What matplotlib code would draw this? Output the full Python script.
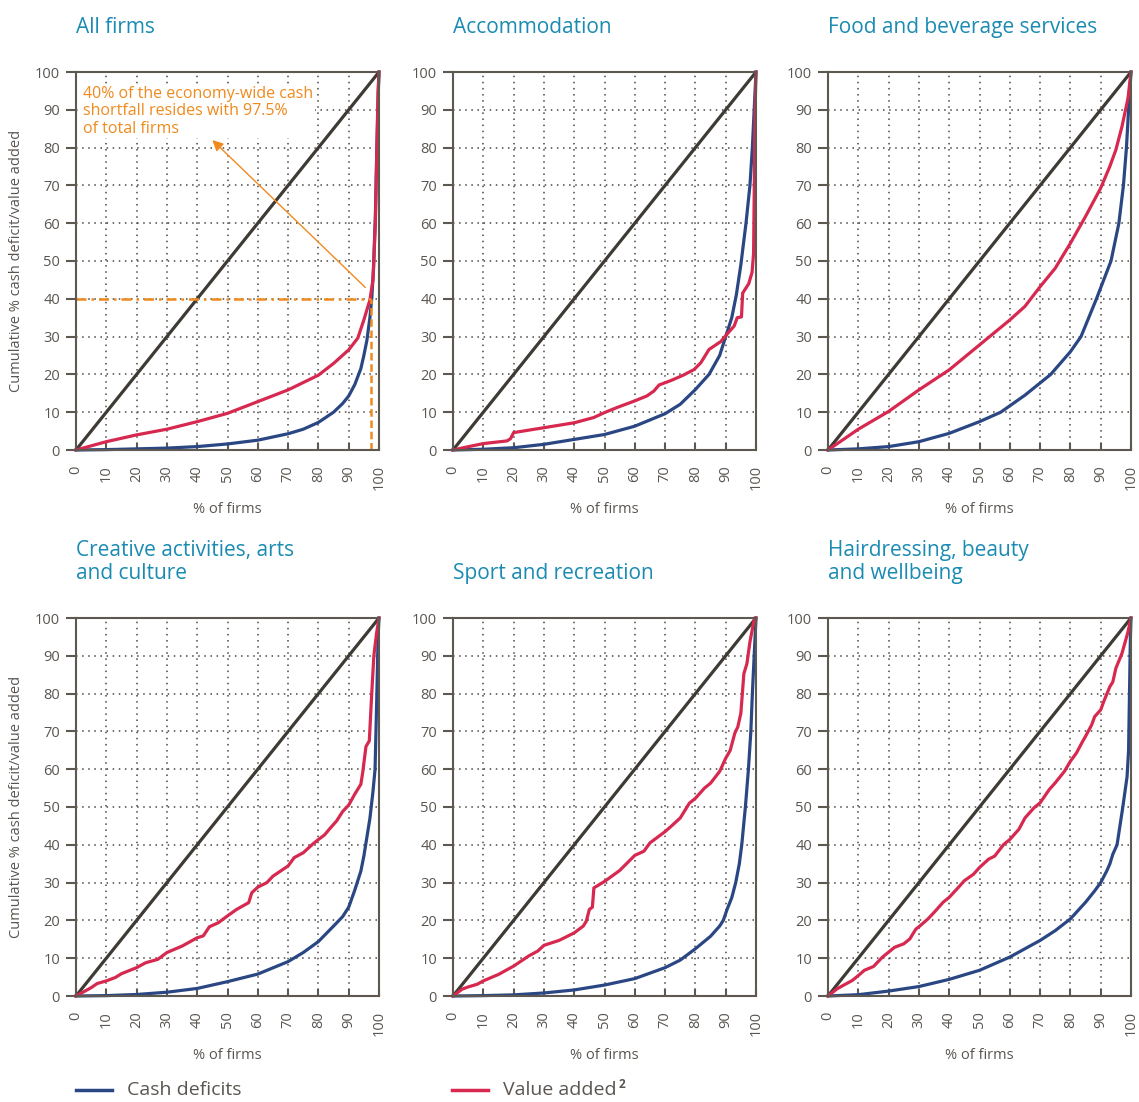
import matplotlib
matplotlib.use("Agg")
import matplotlib.pyplot as plt
from matplotlib.lines import Line2D

plt.rcParams['font.family'] = ['Open Sans', 'DejaVu Sans']

# ---- data: cumulative % of cash deficit / value added vs % of firms ----
titles = ["All firms", "Accommodation", "Food and beverage services",
          "Creative activities, arts\nand culture", "Sport and recreation",
          "Hairdressing, beauty\nand wellbeing"]

equality = [0, 100]

all_cash_x = [0, 10, 20, 30, 40, 50, 60, 70, 75, 80, 85, 88, 90, 92, 94, 95, 96, 97, 97.6, 98.2, 98.8, 99.3, 99.7, 100]
all_cash_y = [0, 0.1, 0.3, 0.5, 0.9, 1.6, 2.6, 4.3, 5.5, 7.3, 10, 12.3, 14.3, 17.3, 21.5, 25, 29, 35, 40, 48, 62, 80, 93, 100]
all_va_x = [0, 10, 20, 30, 40, 50, 60, 70, 80, 85, 90, 93, 95, 97, 98, 98.8, 99.3, 99.7, 100]
all_va_y = [0, 2.2, 4.0, 5.5, 7.5, 9.7, 12.8, 15.9, 19.8, 22.9, 26.5, 29.6, 34.4, 39.7, 45, 60, 80, 95, 100]

acc_cash_x = [0, 10, 20, 30, 40, 50, 60, 70, 75, 80, 84.5, 88, 90, 92, 93.5, 95, 96.7, 98, 98.8, 99.4, 100]
acc_cash_y = [0, 0.2, 0.6, 1.5, 2.8, 4.1, 6.3, 9.6, 12.1, 16, 20, 25, 30, 35, 41, 49, 60, 70, 80, 90, 100]
acc_va_x = [0, 3.4, 10, 17.8, 19, 20, 30, 40, 46.5, 50, 54, 60, 64, 66.3, 68, 72, 76, 79.6, 81.8, 84.5,
            88.4, 90.6, 92.8, 93.8, 95.2, 95.6, 97.6, 98.7, 99.2, 99.7, 100]
acc_va_y = [0, 0.6, 1.7, 2.4, 3.0, 4.6, 5.9, 7.2, 8.6, 9.9, 11.2, 13, 14.3, 15.6, 17.2, 18.4, 19.8, 21.3, 23.1, 26.6,
            28.7, 30.8, 32.8, 35, 35.2, 41.5, 44, 47, 52, 90, 100]

food_cash_x = [0, 10, 20, 30, 40, 50, 57, 65, 73.5, 80, 83.5, 88.6, 91, 93.4, 96, 97.5, 98.5, 99.2, 100]
food_cash_y = [0, 0.3, 0.9, 2.2, 4.4, 7.5, 10, 14.5, 20, 26, 30, 40, 45, 50, 60, 70, 80, 90, 100]
food_va_x = [0, 10, 20, 30, 40, 50, 60, 65, 70, 75, 80, 85, 90, 93, 95, 97, 99, 100]
food_va_y = [0, 5.5, 10.2, 15.9, 21.2, 27.8, 34.4, 38, 43.2, 48.1, 54.7, 61.8, 69.3, 75, 79.4, 85.5, 93, 100]

arts_cash_x = [0, 10, 20, 30, 40, 50, 60, 70, 75, 80, 85, 88, 90, 92, 94, 95, 96, 97, 98, 98.7, 99.3, 99.7, 100]
arts_cash_y = [0, 0.1, 0.4, 1.0, 2.0, 3.8, 5.8, 9.1, 11.5, 14.4, 18.5, 21, 23.5, 28, 33, 37, 42, 47, 54, 60, 80, 95, 100]
arts_va_x = [0, 5, 7, 10, 13, 15, 20, 23, 27, 30, 35, 40, 42, 44, 47, 50, 53, 57, 58, 60, 63, 65, 70, 72, 75,
             78, 80, 82, 84, 86, 88, 90, 92, 94, 94.6, 95.7, 96.8, 97.6, 98.3, 99.2, 100]
arts_va_y = [0, 2.2, 3.3, 4.0, 4.9, 5.9, 7.5, 8.8, 9.7, 11.5, 13.2, 15.4, 15.9, 18.3, 19.4, 21.2, 22.9, 24.7, 27.3,
             28.8, 30, 31.7, 34.4, 36.6, 37.9, 40.1, 41.4, 42.6, 44.5, 46.3, 48.8, 50.5, 53.4, 56, 59, 66, 67.5,
             80, 90, 96, 100]

sport_cash_x = [0, 10, 20, 30, 40, 50, 60, 70, 75, 80, 85, 88, 89.2, 90.5, 92, 93.3, 94.5, 95.3, 96.5, 97.5,
                98.3, 98.8, 99.4, 100]
sport_cash_y = [0, 0.1, 0.3, 0.8, 1.6, 2.9, 4.6, 7.5, 9.5, 12.5, 15.8, 18.5, 20, 23, 26, 30, 35, 40, 50, 60,
                70, 80, 90, 100]
sport_va_x = [0, 3, 5, 8, 10, 15, 20, 25, 28, 30, 35, 40, 43, 44, 45, 46, 46.5, 50, 55, 58, 60, 63, 65, 70, 72,
              75, 78, 80, 83, 85, 88, 90, 91.5, 93, 94, 95, 96, 97, 98, 99.5, 100]
sport_va_y = [0, 1.8, 2.4, 3.1, 4.0, 5.7, 7.9, 10.6, 11.9, 13.4, 14.7, 16.7, 18.5, 19.8, 22.9, 23.5, 28.6, 30.3,
              33.2, 35.6, 37.2, 38.3, 40.5, 43.5, 44.9, 47.1, 51, 52.3, 55, 56.3, 59.4, 62.9, 65, 69.5, 71.2,
              74.8, 85.3, 87.9, 93.7, 100, 100]

hair_cash_x = [0, 10, 20, 30, 40, 50, 60, 70, 75, 80, 85, 88, 90, 92, 93, 94, 95.4, 97.3, 98.7, 99.2, 99.5, 99.8, 100]
hair_cash_y = [0, 0.35, 1.3, 2.5, 4.4, 6.8, 10.3, 14.7, 17.3, 20.4, 24.8, 27.8, 30, 33.1, 34.9, 37.5, 40, 50, 58,
               65, 80, 95, 100]
hair_va_x = [0, 3, 5, 8, 10, 12, 15, 18, 20, 22, 25, 27, 29, 30, 33, 35, 38, 40, 43, 45, 48, 50, 53, 55, 58, 60,
             63, 65, 68, 70, 73, 75, 78, 80, 82, 84, 85, 87, 88, 90, 91, 93, 94, 95, 97, 99, 100]
hair_va_y = [0, 1.9, 2.8, 4.1, 5.4, 6.8, 7.8, 10.3, 11.6, 12.9, 13.8, 15.1, 17.7, 18.3, 20.4, 22.1, 24.8, 26.1,
             28.7, 30.5, 32.2, 34.0, 36.2, 37, 40.1, 41.4, 44.1, 47.1, 49.8, 51.1, 54.6, 56.4, 59.4, 62.1, 64.3,
             67.3, 68.7, 71.7, 73.9, 75.7, 77.9, 81.8, 83.1, 86.7, 90.6, 96.3, 100]

series = [
    (all_cash_x, all_cash_y, all_va_x, all_va_y),
    (acc_cash_x, acc_cash_y, acc_va_x, acc_va_y),
    (food_cash_x, food_cash_y, food_va_x, food_va_y),
    (arts_cash_x, arts_cash_y, arts_va_x, arts_va_y),
    (sport_cash_x, sport_cash_y, sport_va_x, sport_va_y),
    (hair_cash_x, hair_cash_y, hair_va_x, hair_va_y),
]

ticks = list(range(0, 101, 10))

# ---- styling ----
BLUE = "#2a4784"
RED = "#d7284f"
DIAG = "#3e3a34"
AXC = "#5d5850"
TXT = "#5a5550"
TEAL = "#1a8bb2"
ORANGE = "#f08a1e"

W, H = 1139, 1102
fig = plt.figure(figsize=(W / 100, H / 100), dpi=100)

col_left = [76, 453, 828]
row_top = [72, 618]
ax_w, ax_h = 303, 378

axes = []
for i, (title, (cx, cy, vx, vy)) in enumerate(zip(titles, series)):
    r, c = divmod(i, 3)
    left = col_left[c]
    top = row_top[r]
    ax = fig.add_axes([left / W, 1 - (top + ax_h) / H, ax_w / W, ax_h / H])
    axes.append(ax)

    ax.plot(equality, equality, color=DIAG, lw=2.3, solid_capstyle='butt', zorder=3)
    ax.plot(cx, cy, color=BLUE, lw=2.3, zorder=4, clip_on=False)
    ax.plot(vx, vy, color=RED, lw=2.3, zorder=5, clip_on=False)

    ax.set_xlim(0, 100)
    ax.set_ylim(0, 100)
    ax.set_xticks(ticks)
    ax.set_yticks(ticks)
    ax.set_xticklabels([str(t) for t in ticks], rotation=90)
    ax.grid(True, linestyle=(0, (1, 3)), color="#4a4640", lw=1.1)
    ax.set_axisbelow(True)
    for s in ax.spines.values():
        s.set_color(AXC)
        s.set_linewidth(1.5)
        s.set_zorder(6)
    ax.tick_params(axis='y', direction='out', length=7.5, width=1.5, color=AXC,
                   labelsize=10.5, labelcolor=TXT, pad=4)
    ax.tick_params(axis='x', direction='in', length=5, width=1.5, color=AXC,
                   labelsize=10.5, labelcolor=TXT, pad=11)
    ax.set_xlabel("% of firms", fontsize=10.5, color=TXT, labelpad=8)
    if c == 0:
        ax.set_ylabel("Cumulative % cash deficit/value added", fontsize=10.5,
                      color=TXT, labelpad=8)

    fig.text(left / W, 1 - (top - 34) / H, title, ha='left', va='bottom',
             fontsize=15, color=TEAL, linespacing=1.15)

# ---- annotation on the economy-wide panel ----
ax0 = axes[0]
threshold_share = 97.5
threshold_deficit = 40
ax0.plot([0, threshold_share], [threshold_deficit, threshold_deficit], color=ORANGE,
         lw=1.8, linestyle=(0, (4, 2, 1, 2)), zorder=6, clip_on=False)
ax0.plot([threshold_share, threshold_share], [0, threshold_deficit], color=ORANGE,
         lw=1.8, linestyle=(0, (3, 1.5)), zorder=6)
ax0.text(2.3, 96.3, "40% of the economy-wide cash\nshortfall resides with 97.5%\nof total firms",
         ha='left', va='top', fontsize=11.5, color=ORANGE, linespacing=1.12, zorder=7,
         bbox=dict(facecolor='white', edgecolor='none', pad=1.0))
ax0.annotate("", xy=(45, 82), xytext=(95.5, 43),
             arrowprops=dict(arrowstyle='-|>', color=ORANGE, lw=1.0, mutation_scale=16,
                             shrinkA=0, shrinkB=0), zorder=8)

# ---- legend ----
ly = 1 - 1090 / H
fig.add_artist(Line2D([76 / W, 112 / W], [ly, ly], color=BLUE, lw=2.5))
fig.text(127 / W, ly, "Cash deficits", ha='left', va='center', fontsize=14, color=TXT)
fig.add_artist(Line2D([452 / W, 488 / W], [ly, ly], color=RED, lw=2.5))
va_label = fig.text(503 / W, ly, "Value added", ha='left', va='center', fontsize=14, color=TXT)

fig.canvas.draw()
bb = va_label.get_window_extent(renderer=fig.canvas.get_renderer())
fig.text((bb.x1 + 2) / W, 1 - 1084 / H, "2", ha='left', va='center', fontsize=8.5,
         fontweight='bold', color=TXT)

fig.savefig("out.png", dpi=100)
